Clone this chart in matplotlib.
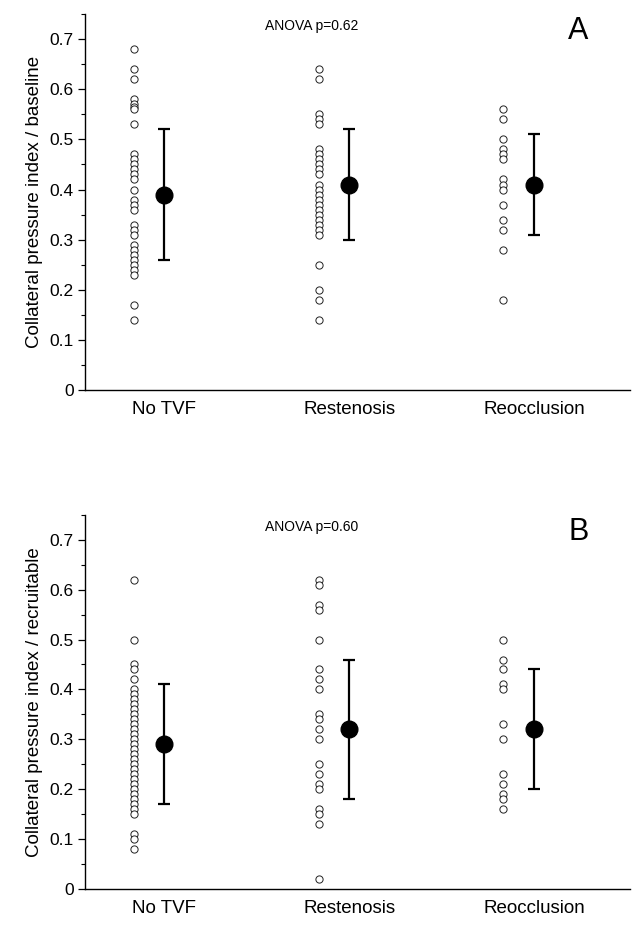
import matplotlib
matplotlib.use('Agg')
import matplotlib.pyplot as plt
from matplotlib.ticker import MultipleLocator, FuncFormatter

plt.rcParams['font.family'] = ['Liberation Sans', 'DejaVu Sans']

# ── data ────────────────────────────────────────────────────────
groups = ['No TVF', 'Restenosis', 'Reocclusion']

a_notvf = [0.68, 0.64, 0.62, 0.58, 0.57, 0.565, 0.56, 0.53,
           0.47, 0.46, 0.45, 0.44, 0.43, 0.42, 0.40, 0.38, 0.37, 0.36,
           0.33, 0.32, 0.31, 0.29, 0.28, 0.27, 0.26, 0.25, 0.24, 0.23,
           0.17, 0.14]
a_resten = [0.64, 0.62, 0.55, 0.54, 0.53,
            0.48, 0.47, 0.46, 0.45, 0.44, 0.43, 0.41, 0.40, 0.39, 0.38,
            0.37, 0.36, 0.35, 0.34, 0.33, 0.32, 0.31,
            0.25, 0.20, 0.18, 0.14]
a_reocc = [0.56, 0.54, 0.50, 0.48, 0.47, 0.46, 0.42, 0.41, 0.40,
           0.37, 0.34, 0.32, 0.28, 0.18]
a_mean = [0.39, 0.41, 0.41]
a_lo = [0.26, 0.30, 0.31]
a_hi = [0.52, 0.52, 0.51]

b_notvf = [0.62, 0.50, 0.45, 0.44, 0.42, 0.40, 0.39, 0.38, 0.37, 0.36,
           0.35, 0.34, 0.33, 0.32, 0.31, 0.30, 0.29, 0.28, 0.27, 0.26,
           0.25, 0.24, 0.23, 0.22, 0.21, 0.20, 0.19, 0.18, 0.17, 0.16,
           0.15, 0.11, 0.10, 0.08]
b_resten = [0.62, 0.61, 0.57, 0.56, 0.50, 0.44, 0.42, 0.40, 0.35, 0.34,
            0.32, 0.30, 0.25, 0.23, 0.21, 0.20, 0.16, 0.15, 0.13, 0.02]
b_reocc = [0.50, 0.46, 0.44, 0.41, 0.40, 0.33, 0.30, 0.23, 0.21, 0.19,
           0.18, 0.16]
b_mean = [0.29, 0.32, 0.32]
b_lo = [0.17, 0.18, 0.20]
b_hi = [0.41, 0.46, 0.44]

panels = [
    dict(points=[a_notvf, a_resten, a_reocc], mean=a_mean, lo=a_lo, hi=a_hi,
         ylabel='Collateral pressure index / baseline',
         anova='ANOVA p=0.62', letter='A'),
    dict(points=[b_notvf, b_resten, b_reocc], mean=b_mean, lo=b_lo, hi=b_hi,
         ylabel='Collateral pressure index / recruitable',
         anova='ANOVA p=0.60', letter='B'),
]

fig = plt.figure(figsize=(6.42, 9.26), dpi=100)
fig.patch.set_facecolor('white')

boxes = [[0.1324, 0.5788, 0.849, 0.406],
         [0.1324, 0.0400, 0.849, 0.404]]

xpos = [1, 2, 3]
for box, p in zip(boxes, panels):
    ax = fig.add_axes(box)
    for x, pts in zip(xpos, p['points']):
        ax.plot([x - 0.165] * len(pts), pts, 'o', ms=5.2, mfc='white',
                mec='#222222', mew=0.7, ls='none')
    yerr = [[m - l for m, l in zip(p['mean'], p['lo'])],
            [h - m for m, h in zip(p['mean'], p['hi'])]]
    ax.errorbar(xpos, p['mean'], yerr=yerr, fmt='o', ms=12, color='black',
                ecolor='black', elinewidth=1.6, capsize=4.5, capthick=1.6)

    ax.set_xlim(0.57, 3.52)
    ax.set_ylim(0, 0.75)
    ax.spines['top'].set_visible(False)
    ax.spines['right'].set_visible(False)
    ax.spines['left'].set_linewidth(1.0)
    ax.spines['bottom'].set_linewidth(1.0)

    ax.set_xticks(xpos)
    ax.set_xticklabels(groups, fontsize=13.5)
    ax.tick_params(axis='x', length=0, pad=8)

    ax.yaxis.set_major_locator(MultipleLocator(0.1))
    ax.yaxis.set_minor_locator(MultipleLocator(0.05))
    ax.yaxis.set_major_formatter(FuncFormatter(lambda v, _: '0' if abs(v) < 1e-9 else f'{v:.1f}'))
    ax.tick_params(axis='y', which='major', length=5, width=0.9, labelsize=12.5, pad=3)
    ax.tick_params(axis='y', which='minor', length=3, width=0.8)
    ax.set_ylabel(p['ylabel'], fontsize=13.5, labelpad=5)

    ax.text(0.415, 0.968, p['anova'], transform=ax.transAxes, fontsize=10,
            ha='center', va='center')
    ax.text(0.905, 0.955, p['letter'], transform=ax.transAxes, fontsize=22,
            ha='center', va='center')

plt.savefig('out.png', dpi=100, facecolor='white')
plt.close()
